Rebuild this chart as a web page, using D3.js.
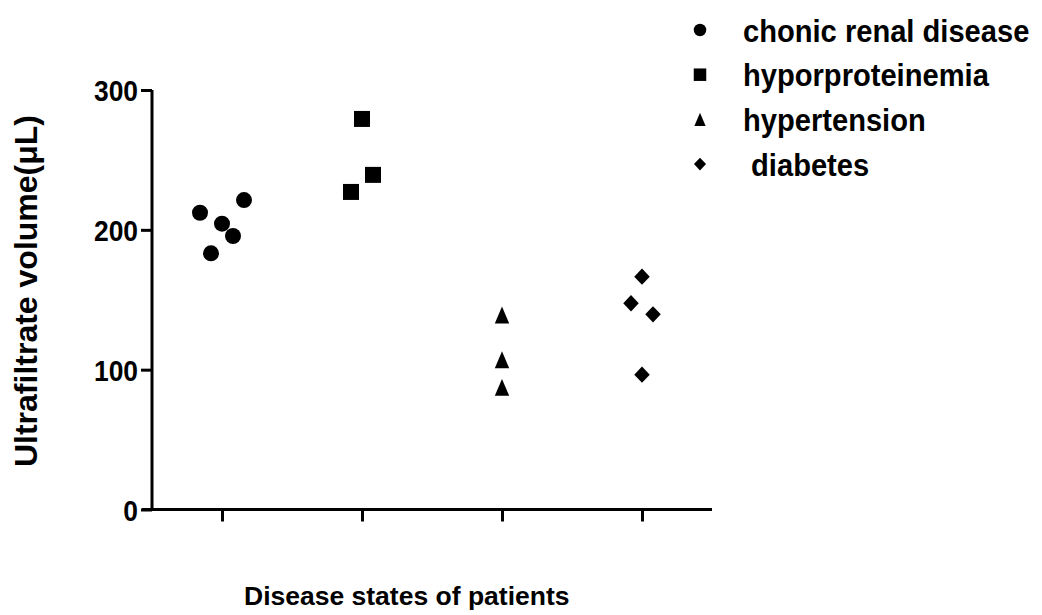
<!DOCTYPE html>
<html>
<head>
<meta charset="utf-8">
<script src="https://cdn.jsdelivr.net/npm/d3@7"></script>
<style>
  html, body { margin: 0; padding: 0; background: #fff; }
  svg { display: block; }
  text { font-family: "Liberation Sans", Arial, sans-serif; font-weight: bold; fill: #000; }
</style>
</head>
<body>
<svg id="chart" width="1042" height="615"></svg>
<script>
// Groups shown along the x axis (and in the legend)
const categories = ["chonic renal disease", "hyporproteinemia", "hypertension", " diabetes"];
const symbols = ["circle", "square", "triangle", "diamond"];

// Ultrafiltrate volume (µL) per patient, by group
const renalValues = [212.2, 183.2, 204.4, 195.6, 221.3];
const proteinValues = [227.1, 279.3, 239.3];
const hypertensionValues = [139.1, 107.1, 87.4];
const diabetesValues = [166.5, 147.5, 139.6, 96.4];

// Column slot of each point inside its group (scatter spread, in symbol widths)
const renalSlots = [-2, -1, 0, 1, 2];
const proteinSlots = [-1, 0, 1];
const hypertensionSlots = [0, 0, 0];
const diabetesSlots = [0, -1, 1, 0];

const yTicks = [0, 100, 200, 300];

const groups = [
  { values: renalValues, slots: renalSlots },
  { values: proteinValues, slots: proteinSlots },
  { values: hypertensionValues, slots: hypertensionSlots },
  { values: diabetesValues, slots: diabetesSlots }
];

const svg = d3.select("#chart");
const plot = { left: 152, right: 712, top: 90, bottom: 509.5 };

const x = d3.scalePoint().domain(categories).range([plot.left, plot.right]).padding(0.5);
const y = d3.scaleLinear().domain([0, 300]).range([plot.bottom, plot.top]);
const slotWidth = 11;

// Marker shapes centred on their bounding box
function shapePath(kind, s) {
  const h = s / 2;
  const p = d3.path();
  if (kind === "circle") {
    p.arc(0, 0, h, 0, 2 * Math.PI);
  } else if (kind === "square") {
    p.rect(-h, -h, s, s);
  } else if (kind === "triangle") {
    const w = s * 0.9;
    p.moveTo(0, -h * 1.05);
    p.lineTo(w / 2, h * 1.05);
    p.lineTo(-w / 2, h * 1.05);
    p.closePath();
  } else {
    const r = h * 1.02;
    p.moveTo(0, -r);
    p.lineTo(r * 0.95, 0);
    p.lineTo(0, r);
    p.lineTo(-r * 0.95, 0);
    p.closePath();
  }
  return p.toString();
}

// Y axis
const yAxis = d3.axisLeft(y).tickValues(yTicks).tickSize(11).tickFormat(d3.format("d"));
const gy = svg.append("g").attr("transform", `translate(${plot.left},0)`).call(yAxis);
gy.select(".domain").attr("d", `M0,${plot.top}V${plot.bottom + 1.5}`).attr("stroke", "#000").attr("stroke-width", 3);
gy.selectAll(".tick line").attr("stroke", "#000").attr("stroke-width", 3);
gy.selectAll(".tick text")
  .attr("x", 0)
  .attr("transform", "translate(-14,0) scale(0.88,1)")
  .style("font-size", "30px").attr("dy", "0.35em")
  .attr("fill", "#000");

// X axis
const xAxis = d3.axisBottom(x).tickSize(12).tickFormat("");
const gx = svg.append("g").attr("transform", `translate(0,${plot.bottom})`).call(xAxis);
gx.select(".domain").attr("d", `M${plot.left - 10},0H${plot.right}`).attr("stroke", "#000").attr("stroke-width", 3);
gx.selectAll(".tick line").attr("stroke", "#000").attr("stroke-width", 3);

// Points
groups.forEach((g, gi) => {
  svg.append("g").selectAll("path")
    .data(g.values.map((v, i) => ({ v, slot: g.slots[i] })))
    .join("path")
    .attr("d", shapePath(symbols[gi], 16))
    .attr("transform", d => `translate(${x(categories[gi]) + d.slot * slotWidth},${y(d.v)})`)
    .attr("fill", "#000");
});

// Axis titles
svg.append("text")
  .attr("transform", "translate(37,291) rotate(-90)")
  .attr("text-anchor", "middle")
  .style("font-size", "32px")
  .text("Ultrafiltrate volume(μL)");

svg.append("text")
  .attr("x", 244).attr("y", 605)
  .style("font-size", "26.5px")
  .text("Disease states of patients");

// Legend
const legend = svg.append("g").attr("transform", "translate(700,30)");
const rowGap = 44.7;
categories.forEach((c, i) => {
  const row = legend.append("g").attr("transform", `translate(0,${i * rowGap})`);
  row.append("path").attr("d", shapePath(symbols[i], 12.5)).attr("fill", "#000");
  row.append("text")
    .attr("transform", "translate(43,11.7) scale(0.91,1)")
    .attr("xml:space", "preserve")
    .style("white-space", "pre")
    .style("font-size", "32px")
    .text(c);
});
</script>
</body>
</html>
